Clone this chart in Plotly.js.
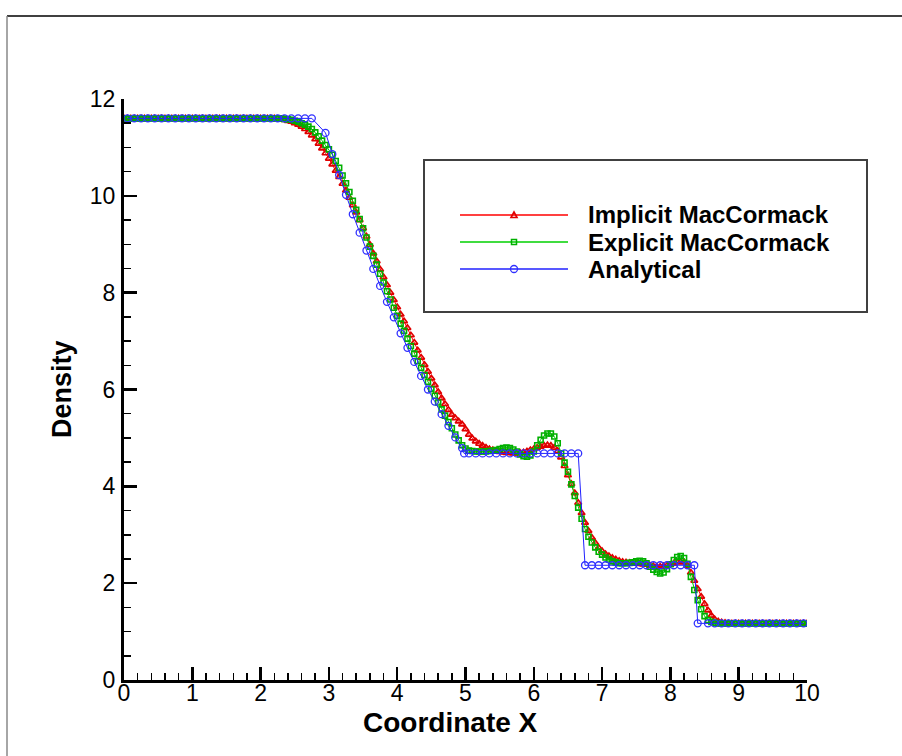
<!DOCTYPE html>
<html><head><meta charset="utf-8">
<script src="https://cdn.plot.ly/plotly-3.0.1.min.js"></script>
<style>html,body{margin:0;padding:0;background:#fff}</style>
</head><body><div id="chart" style="width:902px;height:756px"></div>
<script>
// ---------- data ----------
const seriesNames = ['Implicit MacCormack', 'Explicit MacCormack', 'Analytical'];
const xTitle = 'Coordinate X';
const yTitle = 'Density';
const gridStart = 0;      // first x of numerical solutions
const gridStep = 0.05;    // spacing of numerical solutions

const implicitY = [
11.6,11.6,11.6,11.6,11.6,11.6,11.6,11.6,11.6,11.6,
11.6,11.6,11.6,11.6,11.6,11.6,11.6,11.6,11.6,11.6,
11.6,11.6,11.6,11.6,11.6,11.6,11.6,11.6,11.6,11.6,
11.6,11.6,11.6,11.6,11.6,11.6,11.6,11.6,11.6,11.6,
11.6,11.6,11.6,11.6,11.6,
11.59,11.58,11.57,11.55,11.53,11.50,11.47,11.43,11.38,11.32,
11.25,11.17,11.08,10.98,10.88,10.77,10.65,10.52,10.39,10.25,
10.11,9.96,9.81,9.66,9.50,9.33,9.16,8.99,8.81,8.65,
8.48,8.32,8.16,8.00,7.85,7.70,7.55,7.41,7.27,7.12,
6.97,6.81,6.66,6.51,6.37,6.23,6.09,5.95,5.82,5.70,
5.58,5.48,5.41,5.34,5.28,5.18,5.07,4.99,4.93,4.88,
4.84,4.80,4.77,4.75,4.73,4.71,4.70,4.69,4.69,4.68,
4.68,4.69,4.70,4.72,4.75,4.77,4.80,4.82,4.84,4.85,
4.84,4.80,4.73,4.60,4.42,4.23,4.05,3.86,3.66,3.45,
3.25,3.08,2.94,2.83,2.73,2.66,2.60,2.56,2.52,2.49,
2.46,2.44,2.43,2.42,2.41,2.41,2.40,2.39,2.38,2.36,
2.35,2.34,2.34,2.35,2.36,2.38,2.41,2.43,2.44,2.43,
2.36,2.22,2.05,1.88,1.72,1.57,1.44,1.33,1.25,1.21,
1.19,1.18,
1.17,1.17,1.17,1.17,1.17,1.17,1.17,1.17,1.17,1.17,
1.17,1.17,1.17,1.17,1.17,1.17,1.17,1.17,1.17,1.17,
1.17,1.17,1.17,1.17
];

const explicitY = [
11.6,11.6,11.6,11.6,11.6,11.6,11.6,11.6,11.6,11.6,
11.6,11.6,11.6,11.6,11.6,11.6,11.6,11.6,11.6,11.6,
11.6,11.6,11.6,11.6,11.6,11.6,11.6,11.6,11.6,11.6,
11.6,11.6,11.6,11.6,11.6,11.6,11.6,11.6,11.6,11.6,
11.6,11.6,11.6,11.6,11.6,11.6,11.6,
11.59,11.58,11.57,11.55,11.53,11.50,11.47,11.43,11.38,11.31,
11.23,11.14,11.05,10.96,10.85,10.72,10.58,10.42,10.26,10.08,
9.90,9.71,9.52,9.33,9.14,8.95,8.76,8.58,8.39,8.21,
8.03,7.86,7.69,7.52,7.36,7.21,7.05,6.90,6.74,6.59,
6.45,6.30,6.16,6.01,5.87,5.73,5.59,5.46,5.33,5.20,
5.07,4.95,4.85,4.78,4.74,4.73,4.72,4.72,4.72,4.72,
4.73,4.74,4.75,4.77,4.79,4.80,4.79,4.76,4.72,4.66,
4.62,4.61,4.64,4.72,4.85,4.96,5.05,5.09,5.09,5.03,
4.89,4.68,4.49,4.30,4.04,3.80,3.56,3.33,3.12,2.96,
2.84,2.74,2.65,2.59,2.53,2.49,2.45,2.43,2.41,2.41,
2.41,2.42,2.43,2.45,2.46,2.45,2.41,2.34,2.28,2.23,
2.20,2.22,2.29,2.39,2.48,2.54,2.56,2.52,2.40,2.13,
1.86,1.65,1.46,1.32,1.24,1.20,1.18,
1.17,1.17,1.17,1.17,1.17,1.17,1.17,1.17,1.17,1.17,
1.17,1.17,1.17,1.17,1.17,1.17,1.17,1.17,1.17,1.17,
1.17,1.17,1.17,1.17,1.17,1.17,1.17
];

const analyticalX = [
0.05,0.15,0.25,0.35,0.45,0.55,0.65,0.75,0.85,0.95,
1.05,1.15,1.25,1.35,1.45,1.55,1.65,1.75,1.85,1.95,
2.05,2.15,2.25,2.35,2.45,2.55,2.65,2.75,
2.95,3.05,3.15,3.25,3.35,3.45,3.55,3.65,3.75,3.85,
3.95,4.05,4.15,4.25,4.35,4.45,4.55,4.65,4.75,4.85,4.95,
4.98,
5.05,5.15,5.25,5.35,5.45,5.55,5.65,5.75,5.85,5.95,
6.05,6.15,6.25,6.35,6.45,6.55,6.65,
6.75,6.85,6.95,7.05,7.15,7.25,7.35,7.45,7.55,7.65,
7.75,7.85,7.95,8.05,8.15,8.25,8.35,
8.40,
8.55,8.65,8.75,8.85,8.95,9.05,9.15,9.25,9.35,9.45,
9.55,9.65,9.75,9.85,9.95
];

const analyticalY = [
11.6,11.6,11.6,11.6,11.6,11.6,11.6,11.6,11.6,11.6,
11.6,11.6,11.6,11.6,11.6,11.6,11.6,11.6,11.6,11.6,
11.6,11.6,11.6,11.6,11.6,11.6,11.6,11.6,
11.30,10.86,10.43,10.02,9.62,9.24,8.87,8.49,8.14,7.81,
7.49,7.16,6.86,6.57,6.28,6.00,5.75,5.49,5.25,5.01,4.79,
4.68,
4.68,4.68,4.68,4.68,4.68,4.68,4.68,4.68,4.68,4.68,
4.68,4.68,4.68,4.68,4.68,4.68,4.68,
2.37,2.37,2.37,2.37,2.37,2.37,2.37,2.37,2.37,2.37,
2.37,2.37,2.37,2.37,2.37,2.37,2.37,
1.17,
1.17,1.17,1.17,1.17,1.17,1.17,1.17,1.17,1.17,1.17,
1.17,1.17,1.17,1.17,1.17
];

const xTickVals = [0,1,2,3,4,5,6,7,8,9,10];
const yTickVals = [0,2,4,6,8,10,12];

// ---------- styles ----------
const FONT = 'Liberation Sans, Arial, Helvetica, sans-serif';
const RED = '#ff0000', GREEN = '#00d000', BLUE = '#2020ff';

const traces = [
  {type:'scatter', mode:'lines+markers', name:seriesNames[0], showlegend:false,
   x0:gridStart, dx:gridStep, y:implicitY,
   line:{color:RED, width:1},
   marker:{symbol:'triangle-up-open', size:6, color:'#e00000', line:{width:1.7}}},
  {type:'scatter', mode:'lines+markers', name:seriesNames[1], showlegend:false,
   x0:gridStart, dx:gridStep, y:explicitY,
   line:{color:GREEN, width:1},
   marker:{symbol:'square-open', size:5, color:'#00b000', line:{width:1.6}}},
  {type:'scatter', mode:'lines+markers', name:seriesNames[2], showlegend:false,
   x:analyticalX, y:analyticalY,
   line:{color:BLUE, width:1},
   marker:{symbol:'circle-open', size:7, color:'#3030ff', line:{width:1.3}}}
];

// plot area: x 124..807 px, y 99..680 px
const W = 683, H = 581, L = 124, T = 99;
const px = v => (v - L) / W;
const py = v => (T + H - v) / H;

const shapes = [
  // outer frame (top and left edges)
  {type:'line', xref:'paper', yref:'paper', x0:px(7), x1:px(902), y0:py(16), y1:py(16), line:{color:'#000', width:1.5}},
  {type:'line', xref:'paper', yref:'paper', x0:px(7), x1:px(7), y0:py(16), y1:py(756), line:{color:'#888', width:1.5}},
  // legend box
  {type:'rect', xref:'paper', yref:'paper', x0:px(424), x1:px(867), y0:py(312), y1:py(160), line:{color:'#404040', width:2}, fillcolor:'rgba(255,255,255,0)'}
];
const rows = [215, 242, 269];
const lineCols = [RED, GREEN, BLUE];
rows.forEach((r, i) => {
  shapes.push({type:'line', xref:'paper', yref:'paper', x0:px(460), x1:px(568), y0:py(r), y1:py(r), line:{color:lineCols[i], width:1.5}});
});
shapes.push({type:'path', xref:'paper', yref:'paper', xsizemode:'pixel', ysizemode:'pixel',
  xanchor:px(514), yanchor:py(rows[0]), path:'M-3,-2.5L3,-2.5L0,3Z', line:{color:'#e00000', width:1.6}});
shapes.push({type:'rect', xref:'paper', yref:'paper', xsizemode:'pixel', ysizemode:'pixel',
  xanchor:px(514), yanchor:py(rows[1]), x0:-2.5, x1:2.5, y0:-2.5, y1:2.5, line:{color:'#00b000', width:1.5}});
shapes.push({type:'circle', xref:'paper', yref:'paper', xsizemode:'pixel', ysizemode:'pixel',
  xanchor:px(514), yanchor:py(rows[2]), x0:-3.5, x1:3.5, y0:-3.5, y1:3.5, line:{color:'#3030ff', width:1.3}});

const annotations = seriesNames.map((n, i) => ({
  xref:'paper', yref:'paper', x:px(586), y:py(rows[i]), xanchor:'left', yanchor:'middle',
  text:n, showarrow:false, font:{family:FONT, size:24, color:'#000', weight:'bold'}
}));
annotations.push({xref:'paper', yref:'paper', x:px(450), y:py(722), xanchor:'center', yanchor:'middle',
  text:xTitle, showarrow:false, font:{family:FONT, size:28, color:'#000', weight:'bold'}});
annotations.push({xref:'paper', yref:'paper', x:px(62), y:py(389), xanchor:'center', yanchor:'middle',
  text:yTitle, textangle:-90, showarrow:false, font:{family:FONT, size:27, color:'#000', weight:'bold'}});

const axisCommon = {
  showline:true, linecolor:'#000', linewidth:3, mirror:false,
  ticks:'inside', tickcolor:'#000', tickwidth:2.5, ticklen:13,
  showgrid:false, zeroline:false, automargin:false,
  tickfont:{family:FONT, size:23, color:'#000'}
};

const layout = {
  width:902, height:756,
  margin:{l:L, r:902 - L - W, t:T, b:756 - T - H, pad:0},
  paper_bgcolor:'#fff', plot_bgcolor:'#fff',
  showlegend:false,
  xaxis:Object.assign({}, axisCommon, {
    range:[0,10], tickmode:'array', tickvals:xTickVals, ticklabelstandoff:-10,
    minor:{ticks:'inside', ticklen:7, tickwidth:1.5, tickcolor:'#000', dtick:0.2, tick0:0, showgrid:false}
  }),
  yaxis:Object.assign({}, axisCommon, {
    range:[0,12], tickmode:'array', tickvals:yTickVals, ticklabelstandoff:1,
    minor:{ticks:'inside', ticklen:7, tickwidth:1.5, tickcolor:'#000', dtick:0.5, tick0:0, showgrid:false}
  }),
  shapes:shapes,
  annotations:annotations
};

Plotly.newPlot('chart', traces, layout, {staticPlot:true, displayModeBar:false});
</script>
</body></html>
